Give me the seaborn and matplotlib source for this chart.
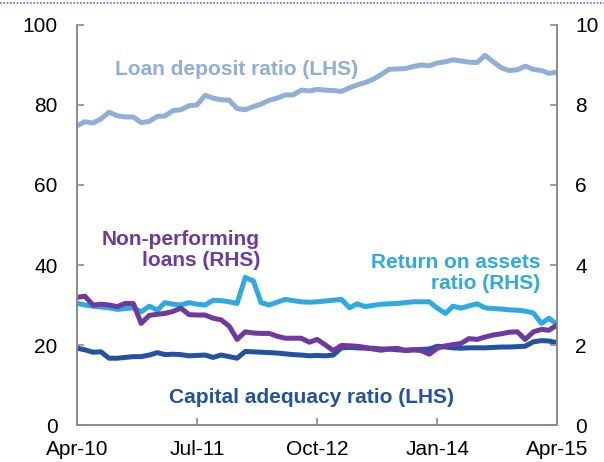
import numpy as np
import pandas as pd
import matplotlib
matplotlib.use("Agg")
import matplotlib.pyplot as plt
import matplotlib.lines as mlines
import seaborn as sns

# Monthly observations, Apr-2010 to Apr-2015
months = pd.date_range("2010-04-01", "2015-04-01", freq="MS")

loan_deposit = [
    74.8, 75.8, 75.5, 76.5, 78.2, 77.3, 77.0, 77.0, 75.6, 75.9,
    77.2, 77.2, 78.6, 78.8, 79.8, 80.0, 82.4, 81.7, 81.3, 81.2,
    79.1, 78.8, 79.6, 80.2, 81.2, 81.7, 82.5, 82.5, 83.7, 83.5,
    83.9, 83.7, 83.6, 83.4, 84.3, 85.0, 85.6, 86.4, 87.6, 88.9,
    89.0, 89.1, 89.6, 90.0, 89.8, 90.5, 90.8, 91.3, 91.0, 90.7,
    90.6, 92.4, 90.8, 89.3, 88.6, 88.8, 89.7, 88.9, 88.6, 87.9,
    88.2,
]
capital_adequacy = [
    19.2, 18.8, 18.2, 18.3, 16.7, 16.7, 16.9, 17.1, 17.1, 17.5,
    18.1, 17.6, 17.7, 17.6, 17.3, 17.4, 17.5, 16.9, 17.5, 17.1,
    16.7, 18.4, 18.3, 18.2, 18.1, 18.0, 17.8, 17.6, 17.5, 17.3,
    17.4, 17.3, 17.5, 19.3, 19.4, 19.3, 19.2, 19.2, 19.0, 19.0,
    18.8, 18.7, 18.8, 18.9, 19.0, 19.7, 19.5, 19.3, 19.2, 19.3,
    19.3, 19.3, 19.4, 19.5, 19.5, 19.6, 19.7, 20.8, 21.1, 21.0,
    20.6,
]
return_on_assets = [
    3.04, 3.00, 2.97, 2.95, 2.93, 2.89, 2.91, 2.93, 2.83, 2.97,
    2.87, 3.06, 3.02, 3.00, 3.06, 3.02, 3.00, 3.12, 3.11, 3.08,
    3.04, 3.69, 3.60, 3.06, 3.00, 3.07, 3.14, 3.11, 3.08, 3.07,
    3.08, 3.10, 3.12, 3.14, 2.93, 3.03, 2.96, 2.99, 3.02, 3.03,
    3.04, 3.06, 3.08, 3.08, 3.08, 2.92, 2.79, 2.97, 2.92, 2.98,
    3.03, 2.93, 2.91, 2.90, 2.88, 2.87, 2.85, 2.80, 2.54, 2.67,
    2.52,
]
non_performing = [
    3.19, 3.22, 3.00, 3.02, 3.00, 2.96, 3.04, 3.04, 2.54, 2.74,
    2.77, 2.79, 2.84, 2.92, 2.76, 2.75, 2.75, 2.67, 2.63, 2.47,
    2.14, 2.33, 2.30, 2.29, 2.29, 2.22, 2.17, 2.17, 2.17, 2.07,
    2.14, 2.00, 1.86, 1.99, 1.98, 1.97, 1.94, 1.90, 1.87, 1.90,
    1.92, 1.86, 1.88, 1.86, 1.77, 1.92, 1.98, 2.01, 2.04, 2.16,
    2.14, 2.20, 2.25, 2.28, 2.32, 2.33, 2.14, 2.33, 2.39, 2.37,
    2.50,
]

x_tick_dates = pd.to_datetime(["2010-04-01", "2011-07-01", "2012-10-01",
                               "2014-01-01", "2015-04-01"])
x_tick_labels = ["Apr-10", "Jul-11", "Oct-12", "Jan-14", "Apr-15"]
lhs_ticks = [0, 20, 40, 60, 80, 100]
rhs_ticks = [0, 2, 4, 6, 8, 10]

c_loan = "#8FAFD9"
c_cap = "#2353A0"
c_roa = "#2DAAE1"
c_npl = "#6E3A9E"
c_axis = "#8C8C8C"

sns.set_theme(style="white")
plt.rcParams["font.family"] = ["Liberation Sans", "DejaVu Sans"]

df = pd.DataFrame({
    "date": months,
    "loan": loan_deposit,
    "cap": capital_adequacy,
    "roa": return_on_assets,
    "npl": non_performing,
})

fig = plt.figure(figsize=(6.04, 4.62), dpi=100)
ax = fig.add_axes([0.1275, 0.080, 0.7947, 0.866])
ax2 = ax.twinx()

lw = 3.6
sns.lineplot(data=df, x="date", y="loan", ax=ax, color=c_loan, lw=lw)
sns.lineplot(data=df, x="date", y="cap", ax=ax, color=c_cap, lw=lw)
sns.lineplot(data=df, x="date", y="roa", ax=ax2, color=c_roa, lw=lw)
sns.lineplot(data=df, x="date", y="npl", ax=ax2, color=c_npl, lw=lw)

ax.set_xlim(months[0], months[-1])
ax.set_ylim(0, 100)
ax2.set_ylim(0, 10)
ax.set_yticks(lhs_ticks)
ax2.set_yticks(rhs_ticks)
ax.set_xticks(x_tick_dates)
ax.set_xticklabels(x_tick_labels)
for a in (ax, ax2):
    a.set_xlabel("")
    a.set_ylabel("")
    a.grid(False)
    a.spines["top"].set_visible(False)
    for s in ("left", "right", "bottom"):
        a.spines[s].set_color(c_axis)
        a.spines[s].set_linewidth(1.3)

ax.tick_params(axis="y", direction="in", length=5, width=1.2, color=c_axis,
               labelsize=15, pad=14, labelcolor="black", left=True)
ax.tick_params(axis="x", direction="in", length=5, width=1.2, color=c_axis,
               labelsize=15, pad=11, labelcolor="black", bottom=True)
ax2.tick_params(axis="y", direction="in", length=5, width=1.2, color=c_axis,
                labelsize=15, pad=13, labelcolor="black", right=True)

bold = dict(fontsize=15, fontweight="bold")
ax.text(0.333, 0.8875, "Loan deposit ratio (LHS)", color=c_loan,
        ha="center", va="center", transform=ax.transAxes, **bold)
ax.text(0.381, 0.4375, "Non-performing\nloans (RHS)", color=c_npl,
        ha="right", va="center", multialignment="right", linespacing=1.1,
        transform=ax.transAxes, **bold)
ax.text(0.965, 0.38, "Return on assets\nratio (RHS)", color=c_roa,
        ha="right", va="center", multialignment="right", linespacing=1.1,
        transform=ax.transAxes, **bold)
ax.text(0.4875, 0.07, "Capital adequacy ratio (LHS)", color=c_cap,
        ha="center", va="center", transform=ax.transAxes, **bold)

# dotted rule along the top edge
fig.add_artist(mlines.Line2D([0, 1], [0.993, 0.993], transform=fig.transFigure,
                             color="#5A6FB8", lw=1.2, ls=(0, (1, 1))))

fig.savefig("out.png", dpi=100)
